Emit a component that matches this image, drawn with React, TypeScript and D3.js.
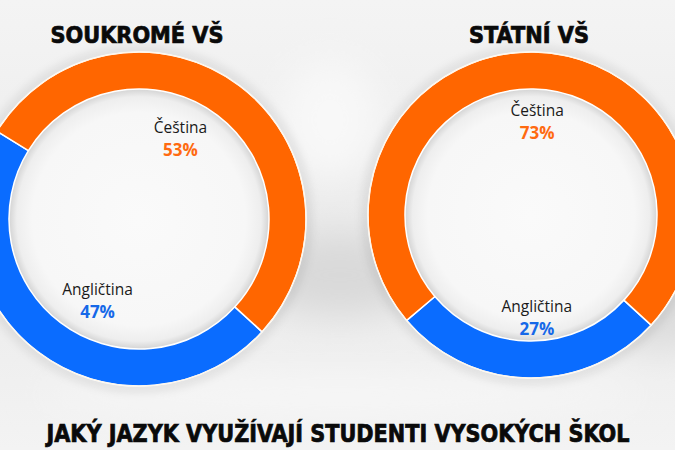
import { useEffect, useRef } from "react";
import * as d3 from "d3";

const languages = ["Angličtina", "Čeština"];
const schoolTypes = ["SOUKROMÉ VŠ", "STÁTNÍ VŠ"];
const privateShares = [47, 53];
const publicShares = [27, 73];
const chartTitle = "JAKÝ JAZYK VYUŽÍVAJÍ STUDENTI VYSOKÝCH ŠKOL";

const colors = ["#0a6cff", "#ff6600"];
const textColors = ["#1668e8", "#ff6a10"];

const W = 675;
const H = 450;

// layout of the two rings
const rings = [
  { cx: 139, cy: 219, outer: 167, inner: 130, labelR: 91, labelShift: -10, dx: 0, dy: 0, values: privateShares, titleW: 173 },
  { cx: 531, cy: 215, outer: 163, inner: 126, labelR: 98, labelShift: -1, dx: 6, dy: 4, values: publicShares, titleW: 120 },
];

const rad = (deg: number) => (deg * Math.PI) / 180;

const App = () => {
  const svgRef = useRef<SVGSVGElement | null>(null);

  useEffect(() => {
    d3.select(svgRef.current).selectAll("*").remove();

    const svg = d3.select(svgRef.current).attr("width", W).attr("height", H);
    const defs = svg.append("defs");

    const bg = defs
      .append("linearGradient")
      .attr("id", "bg")
      .attr("x1", 0)
      .attr("y1", 0)
      .attr("x2", 0)
      .attr("y2", 1);
    bg.append("stop").attr("offset", "0%").attr("stop-color", "#f4f4f4");
    bg.append("stop").attr("offset", "55%").attr("stop-color", "#eaeaea");
    bg.append("stop").attr("offset", "100%").attr("stop-color", "#f3f3f3");

    defs
      .append("filter")
      .attr("id", "blur")
      .attr("x", "-50%")
      .attr("y", "-50%")
      .attr("width", "200%")
      .attr("height", "200%")
      .append("feGaussianBlur")
      .attr("stdDeviation", 18);

    defs
      .append("filter")
      .attr("id", "soft")
      .attr("x", "-20%")
      .attr("y", "-20%")
      .attr("width", "140%")
      .attr("height", "140%")
      .append("feGaussianBlur")
      .attr("stdDeviation", 5);

    const hole = defs.append("radialGradient").attr("id", "hole");
    hole.append("stop").attr("offset", "0%").attr("stop-color", "#fafafa");
    hole.append("stop").attr("offset", "82%").attr("stop-color", "#f7f7f7");
    hole.append("stop").attr("offset", "94%").attr("stop-color", "#eeeeee");
    hole.append("stop").attr("offset", "100%").attr("stop-color", "#d4d4d4");

    svg.append("rect").attr("width", W).attr("height", H).attr("fill", "url(#bg)");

    // cloudy background patches
    const clouds = svg.append("g").attr("filter", "url(#blur)");
    clouds.append("ellipse").attr("cx", 340).attr("cy", 275).attr("rx", 90).attr("ry", 40).attr("fill", "#d9d9d9");
    clouds.append("ellipse").attr("cx", 660).attr("cy", 300).attr("rx", 60).attr("ry", 50).attr("fill", "#dcdcdc");
    clouds.append("ellipse").attr("cx", 330).attr("cy", 120).attr("rx", 50).attr("ry", 60).attr("fill", "#f8f8f8");
    clouds.append("ellipse").attr("cx", 340).attr("cy", 395).attr("rx", 300).attr("ry", 18).attr("fill", "#f7f7f7");

    const pie = d3
      .pie<number>()
      .sort(null)
      .value((d) => d)
      .startAngle(rad(132.5))
      .endAngle(rad(132.5) + 2 * Math.PI);

    rings.forEach((ring, i) => {
      const g = svg.append("g").attr("transform", `translate(${ring.cx},${ring.cy})`);

      // shadow around the ring
      g.append("circle")
        .attr("r", ring.outer + 2)
        .attr("fill", "none")
        .attr("stroke", "rgba(0,0,0,0.12)")
        .attr("stroke-width", 6)
        .attr("filter", "url(#soft)");

      g.append("circle").attr("r", ring.inner).attr("fill", "url(#hole)");

      const arc = d3
        .arc<d3.PieArcDatum<number>>()
        .innerRadius(ring.inner)
        .outerRadius(ring.outer);

      const arcs = pie(ring.values);

      g.selectAll("path.slice")
        .data(arcs)
        .enter()
        .append("path")
        .attr("class", "slice")
        .attr("d", arc)
        .attr("fill", (_d, j) => colors[j])
        .attr("stroke", "#ffffff")
        .attr("stroke-width", 1.5)
        .attr("stroke-linejoin", "round");

      g.append("circle")
        .attr("r", ring.outer)
        .attr("fill", "none")
        .attr("stroke", "#fff6e8")
        .attr("stroke-width", 1);

      const labels = g
        .selectAll("g.lbl")
        .data(arcs)
        .enter()
        .append("g")
        .attr("class", "lbl")
        .attr("transform", (d) => {
          const a = (d.startAngle + d.endAngle) / 2 + rad(ring.labelShift);
          const x = Math.sin(a) * ring.labelR + ring.dx;
          const y = -Math.cos(a) * ring.labelR + ring.dy;
          return `translate(${x},${y})`;
        });

      labels
        .append("text")
        .attr("y", -5)
        .attr("text-anchor", "middle")
        .attr("font-family", "'Open Sans', sans-serif")
        .attr("font-size", 15.5)
        .attr("fill", "#1a1a1a")
        .text((_d, j) => languages[j]);

      labels
        .append("text")
        .attr("y", 18)
        .attr("text-anchor", "middle")
        .attr("font-family", "'Open Sans', sans-serif")
        .attr("font-weight", 700)
        .attr("font-size", 17)
        .attr("fill", (_d, j) => textColors[j])
        .text((d) => `${d.data}%`);

      svg
        .append("text")
        .attr("x", ring.cx - 2)
        .attr("y", 43)
        .attr("text-anchor", "middle")
        .attr("font-family", "'DejaVu Sans Condensed', 'DejaVu Sans', sans-serif")
        .attr("font-weight", 700)
        .attr("font-size", 23)
        .attr("textLength", ring.titleW)
        .attr("lengthAdjust", "spacingAndGlyphs")
        .attr("fill", "#0a0a0a")
        .attr("stroke", "#0a0a0a")
        .attr("stroke-width", 0.7)
        .text(schoolTypes[i]);
    });

    svg
      .append("text")
      .attr("x", 338)
      .attr("y", 442)
      .attr("text-anchor", "middle")
      .attr("font-family", "'DejaVu Sans Condensed', 'DejaVu Sans', sans-serif")
      .attr("font-weight", 700)
      .attr("font-size", 24)
      .attr("textLength", 583)
      .attr("lengthAdjust", "spacingAndGlyphs")
      .attr("fill", "#0a0a0a")
      .attr("stroke", "#0a0a0a")
      .attr("stroke-width", 0.7)
      .text(chartTitle);
  });

  return (
    <div>
      <svg ref={svgRef} style={{ position: "absolute", left: 0, top: 0 }} />
    </div>
  );
};

export default App;
